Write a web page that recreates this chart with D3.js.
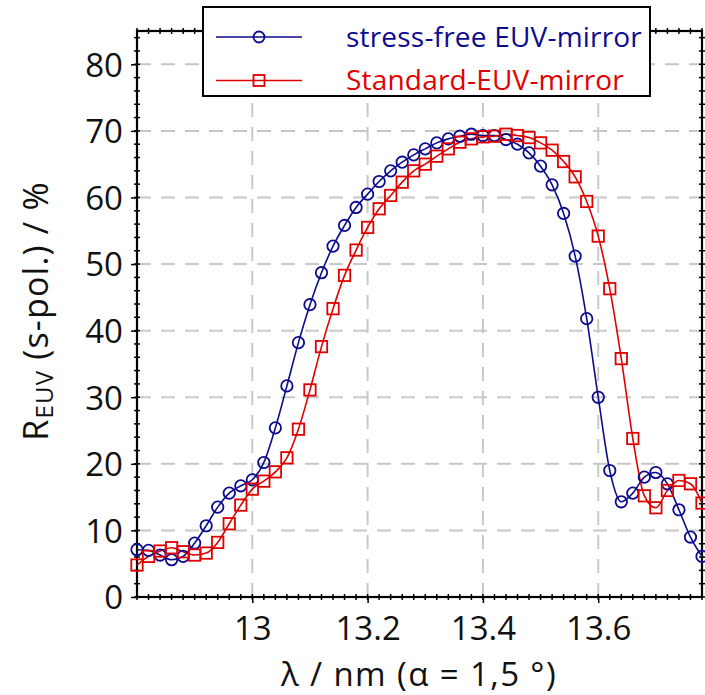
<!DOCTYPE html>
<html><head><meta charset="utf-8">
<script src="https://cdn.jsdelivr.net/npm/d3@7"></script>
<style>body{margin:0;background:#fff}svg{display:block}</style>
</head><body>
<svg id="c" width="705" height="695"></svg>
<script>
const wavelength = d3.range(50).map(i => +(12.8 + i*0.02).toFixed(2));
const stressFree = [7.1,7.0,6.3,5.6,6.1,8.1,10.7,13.5,15.6,16.7,
  17.6,20.2,25.4,31.7,38.2,43.9,48.7,52.7,55.8,58.5,
  60.5,62.4,64.0,65.3,66.4,67.3,68.2,68.8,69.2,69.5,
  69.3,69.3,68.7,68.0,66.7,64.7,61.9,57.6,51.2,41.8,
  30.0,19.0,14.3,15.6,18.0,18.7,17.0,13.1,9.0,6.1];
const standard = [4.8,6.1,6.9,7.4,6.8,6.3,6.6,8.2,11.0,13.8,
  16.2,17.4,18.8,20.9,25.2,31.1,37.6,43.3,48.3,52.1,
  55.5,58.3,60.3,62.3,64.0,65.0,66.2,67.3,68.3,68.8,
  69.1,69.2,69.5,69.3,69.0,68.2,67.1,65.4,63.1,59.4,
  54.2,46.3,35.8,23.8,15.2,13.4,16.0,17.5,17.0,14.1];
const xTicks = [13, 13.2, 13.4, 13.6];
const yTicks = [0,10,20,30,40,50,60,70,80];
const seriesNames = ["stress-free EUV-mirror", "Standard-EUV-mirror"];

const BLUE = "#0b0b8f", RED = "#e00000";
const FONT = "'Open Sans', 'Noto Sans', sans-serif";
const L = 137, R = 702, T = 31, B = 597;
const x = d3.scaleLinear().domain([12.8, 13.78]).range([L, R]);
const y = d3.scaleLinear().domain([0, 85]).range([B, T]);
const svg = d3.select("#c");

// grid
const g = svg.append("g").attr("stroke", "#c8c8c8").attr("stroke-width", 2).attr("stroke-dasharray", "14,10");
g.selectAll("line.v").data(xTicks).join("line").attr("x1", d => x(d)).attr("x2", d => x(d)).attr("y1", B).attr("y2", T);
g.selectAll("line.h").data(yTicks.filter(d => d > 0)).join("line").attr("y1", d => y(d)).attr("y2", d => y(d)).attr("x1", L).attr("x2", R);

// minor ticks (crossing)
const xMinor = d3.range(50).map(i => 12.8 + i*0.02);
const yMinor = d3.range(0, 86, 2);
const tk = svg.append("g").attr("stroke", "#000").attr("stroke-width", 1.5);
tk.selectAll("l1").data(xMinor).join("line").attr("x1", d => x(d)).attr("x2", d => x(d)).attr("y1", B-3).attr("y2", B+3);
tk.selectAll("l2").data(xMinor).join("line").attr("x1", d => x(d)).attr("x2", d => x(d)).attr("y1", T-3).attr("y2", T+3);
tk.selectAll("l3").data(yMinor).join("line").attr("y1", d => y(d)).attr("y2", d => y(d)).attr("x1", L-3).attr("x2", L+3);
tk.selectAll("l4").data(yMinor).join("line").attr("y1", d => y(d)).attr("y2", d => y(d)).attr("x1", R-3).attr("x2", R+3);

const ax = svg.append("g").attr("transform", `translate(0,${B})`)
  .call(d3.axisBottom(x).tickValues(xTicks).tickSize(6).tickPadding(14).tickFormat(d3.format("~g")));
const ay = svg.append("g").attr("transform", `translate(${L},0)`)
  .call(d3.axisLeft(y).tickValues(yTicks).tickSize(6).tickPadding(8));
[ax, ay].forEach(a => {
  a.select(".domain").remove();
  a.selectAll("line").attr("stroke", "#000").attr("stroke-width", 1.5);
  a.selectAll("text").attr("font-family", FONT).attr("font-size", 33).attr("fill", "#111");
});
ay.selectAll("text").attr("dy", "0.36em");
ax.selectAll("text").attr("dy", "0.71em");

// frame
svg.append("rect").attr("x", L).attr("y", T).attr("width", R-L).attr("height", B-T)
  .attr("fill", "none").attr("stroke", "#000").attr("stroke-width", 2.2);

// series
const series = [
  {name: seriesNames[0], vals: stressFree, color: BLUE, shape: "circle"},
  {name: seriesNames[1], vals: standard, color: RED, shape: "square"}
];
const line = d3.line().x((d,i) => x(wavelength[i])).y(d => y(d)).curve(d3.curveMonotoneX);
const plot = svg.append("g");
series.forEach(s => {
  plot.append("path").attr("d", line(s.vals)).attr("fill", "none").attr("stroke", s.color).attr("stroke-width", 1.6);
});
series.forEach(s => {
  const gg = plot.append("g").attr("fill", "none").attr("stroke", s.color).attr("stroke-width", 1.8);
  if (s.shape === "circle") {
    gg.selectAll("circle").data(s.vals).join("circle")
      .attr("cx", (d,i) => x(wavelength[i])).attr("cy", d => y(d)).attr("r", 5.7);
  } else {
    gg.selectAll("rect").data(s.vals).join("rect")
      .attr("x", (d,i) => x(wavelength[i]) - 5.7).attr("y", d => y(d) - 5.7).attr("width", 11.4).attr("height", 11.4);
  }
});

// legend
const lg = svg.append("g");
lg.append("rect").attr("x", 203).attr("y", 7).attr("width", 447).attr("height", 89)
  .attr("fill", "#fff").attr("stroke", "#000").attr("stroke-width", 2);
series.forEach((s, i) => {
  const yy = 37 + i*43.5;
  lg.append("line").attr("x1", 216).attr("x2", 302).attr("y1", yy).attr("y2", yy).attr("stroke", s.color).attr("stroke-width", 1.6);
  if (s.shape === "circle") lg.append("circle").attr("cx", 259).attr("cy", yy).attr("r", 5.5).attr("fill", "none").attr("stroke", s.color).attr("stroke-width", 1.8);
  else lg.append("rect").attr("x", 253.5).attr("y", yy-5.5).attr("width", 11).attr("height", 11).attr("fill", "none").attr("stroke", s.color).attr("stroke-width", 1.8);
  lg.append("text").attr("x", 346).attr("y", yy).attr("dy", "0.35em").attr("font-family", FONT).attr("font-size", 28)
    .attr("fill", s.color).attr("letter-spacing", 0.2).text(s.name);
});

// axis titles
svg.append("text").attr("x", 419).attr("y", 686).attr("text-anchor", "middle").attr("font-family", FONT)
  .attr("font-size", 33).attr("letter-spacing", 1.4).attr("fill", "#111").text("λ / nm (α = 1,5 °)");
const yt = svg.append("text").attr("transform", "translate(48,311) rotate(-90)").attr("text-anchor", "middle")
  .attr("font-family", FONT).attr("font-size", 34).attr("letter-spacing", 1.2).attr("fill", "#111");
yt.append("tspan").text("R");
yt.append("tspan").attr("font-size", 24).attr("dy", 5).text("EUV");
yt.append("tspan").attr("dy", -5).text(" (s-pol.) / %");
</script>
</body></html>
